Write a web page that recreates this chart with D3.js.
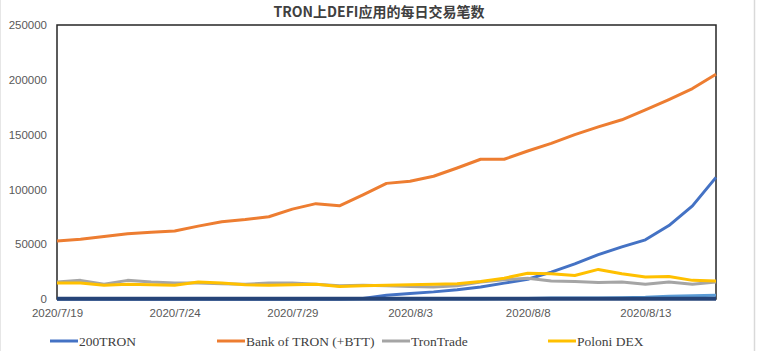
<!DOCTYPE html>
<html><head><meta charset="utf-8">
<script src="https://cdn.jsdelivr.net/npm/d3@7"></script>
<style>
html,body{margin:0;padding:0;background:#fff;}
svg{display:block;}
</style></head>
<body>
<svg id="chart" width="759" height="351"></svg>
<script>
const title = "TRON上DEFI应用的每日交易笔数";
const dates = ["2020/7/19","2020/7/20","2020/7/21","2020/7/22","2020/7/23","2020/7/24","2020/7/25","2020/7/26","2020/7/27","2020/7/28",
  "2020/7/29","2020/7/30","2020/7/31","2020/8/1","2020/8/2","2020/8/3","2020/8/4","2020/8/5","2020/8/6","2020/8/7",
  "2020/8/8","2020/8/9","2020/8/10","2020/8/11","2020/8/12","2020/8/13","2020/8/14","2020/8/15","2020/8/16"];
const tron200 = [0,0,0,0,0,0,0,0,0,0,0,0,0,500,3500,5000,6500,8500,11000,14500,18000,24500,32000,40500,47500,54000,67000,85000,111000];
const bankOfTron = [53000,54500,57000,59500,61000,62000,66500,70500,72500,75000,82000,87000,85000,95000,105500,107500,112000,119500,127500,127500,135000,142000,150000,157000,163500,172500,182000,192000,205000];
const tronTrade = [15500,17000,13500,17000,15500,14500,14500,14000,13500,14500,14500,13500,12000,12500,12000,11500,11000,12000,15500,17500,19000,16500,16000,15000,15500,13500,15500,13500,15500];
const poloniDex = [14500,14500,12500,13500,13000,12500,15500,14500,13000,12500,13000,13500,11500,12000,12500,13000,13500,14000,16000,19000,23500,23000,21500,27000,23000,20000,20500,17000,16500];
const series5 = [300,300,300,300,300,300,300,300,300,300,300,300,300,300,300,300,300,300,300,400,500,1000,1000,1000,1200,1500,2500,3000,3500];
const series7 = [200,200,200,200,200,200,200,200,200,200,200,200,200,200,200,200,200,200,200,200,200,200,200,200,200,200,200,200,200];
const yTicks = [0,50000,100000,150000,200000,250000];
const xTickLabels = ["2020/7/19","2020/7/24","2020/7/29","2020/8/3","2020/8/8","2020/8/13"];

const seriesList = [
  {name:"200TRON", values:tron200, color:"#4472C4", w:3, legend:true},
  {name:"Bank of TRON (+BTT)", values:bankOfTron, color:"#ED7D31", w:3, legend:true},
  {name:"TronTrade", values:tronTrade, color:"#A5A5A5", w:3, legend:true},
  {name:"Poloni DEX", values:poloniDex, color:"#FFC000", w:3, legend:true},
  {name:"series5", values:series5, color:"#5B9BD5", w:3, legend:false},
  {name:"series7", values:series7, color:"#264478", w:4, legend:false}
];

const parse = d3.timeParse("%Y/%m/%d");
const fmt = d3.timeFormat("%Y/%-m/%-d");
const svg = d3.select("#chart");

const L = 57, R = 716, T = 25, B = 299;
const x = d3.scaleTime().domain([parse(dates[0]), parse(dates[dates.length-1])]).range([L, R]);
const y = d3.scaleLinear().domain([0, 250000]).range([B, T]);

// page edges
svg.append("line").attr("x1",754.5).attr("x2",754.5).attr("y1",0).attr("y2",351).attr("stroke","#d9d9d9").attr("stroke-width",1.5);
svg.append("line").attr("x1",0.5).attr("x2",0.5).attr("y1",0).attr("y2",351).attr("stroke","#e6e6e6").attr("stroke-width",1);

// title
svg.append("text").attr("x",379).attr("y",17).attr("text-anchor","middle")
  .attr("font-family","'Noto Sans CJK SC', sans-serif").attr("font-weight","bold").attr("font-size",14)
  .attr("fill","#404040").text(title);

// y axis
const yAxis = d3.axisLeft(y).tickValues(yTicks).tickSize(0).tickPadding(10).tickFormat(d3.format("d"));
const gy = svg.append("g").attr("transform",`translate(${L},0)`).call(yAxis);
gy.select(".domain").remove();
gy.selectAll("text").attr("font-family","'Liberation Sans', Arial, sans-serif").attr("font-size",11.5).attr("fill","#595959");

// x axis
const xTickDates = xTickLabels.map(parse);
const xAxis = d3.axisBottom(x).tickValues(xTickDates).tickSize(0).tickPadding(10).tickFormat(fmt);
const gx = svg.append("g").attr("transform",`translate(0,${B})`).call(xAxis);
gx.select(".domain").remove();
gx.selectAll("text").attr("font-family","'Liberation Sans', Arial, sans-serif").attr("font-size",11.5).attr("fill","#595959");

// plot border
svg.append("rect").attr("x",L).attr("y",T).attr("width",R-L).attr("height",B-T)
  .attr("fill","none").attr("stroke","#262626").attr("stroke-width",1.5);

// lines
const line = d3.line().x((d,i)=>x(parse(dates[i]))).y(d=>y(d));
seriesList.forEach(s=>{
  svg.append("path").datum(s.values).attr("d",line).attr("fill","none")
    .attr("stroke",s.color).attr("stroke-width",s.w).attr("stroke-linejoin","round").attr("stroke-linecap","butt");
});

// legend
const legendPos = [50, 217, 382, 548];
const lg = seriesList.filter(s=>s.legend);
lg.forEach((s,i)=>{
  const g = svg.append("g").attr("transform",`translate(${legendPos[i]},341)`);
  g.append("line").attr("x1",0).attr("x2",28).attr("y1",0).attr("y2",0).attr("stroke",s.color).attr("stroke-width",3);
  g.append("text").attr("x",29).attr("y",0).attr("dy","0.35em")
    .attr("font-family","'Liberation Serif', 'DejaVu Serif', serif").attr("font-size",13.5).attr("fill","#404040").text(s.name);
});
</script>
</body></html>
